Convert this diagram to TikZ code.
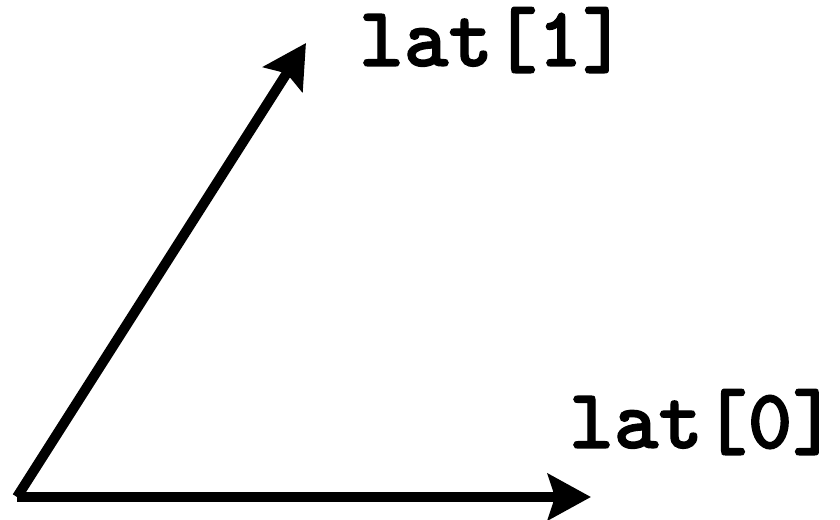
\documentclass[tikz,border=0pt]{standalone}
\usepackage{fontspec}
\newfontfamily\lblfont[FakeBold=1.5]{lmmonolt10-bold.otf}
\usetikzlibrary{arrows.meta}
\tikzset{
  vec/.style={line width=10pt, -{Stealth[length=43pt, width=46pt, inset=7pt]}},
  lbl/.style={font=\fontsize{85}{90}\selectfont\lblfont, inner sep=0pt, anchor=base west}
}
\begin{document}
\begin{tikzpicture}[x=1pt,y=1pt]
\useasboundingbox (0,0) rectangle (840,519);
\coordinate (o) at (17,22);
\coordinate (e0) at (591,22);
\coordinate (e1) at (306,476);
\draw[vec] (o) -- (e0);
\draw[vec] (o) -- (e1);
\node[lbl] (l1) at (359,453) {lat[1]};
\node[lbl] (l0) at (569,71) {lat[0]};
\end{tikzpicture}
\end{document}
